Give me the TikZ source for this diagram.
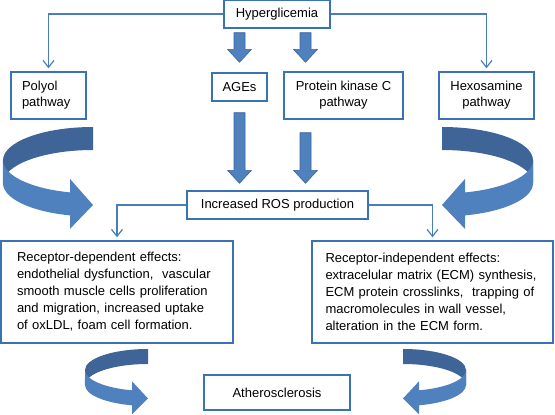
\documentclass[tikz,border=0pt]{standalone}
\usepackage{fontspec}
\setmainfont{Liberation Sans}
\usetikzlibrary{arrows.meta,calc}

\definecolor{boxblue}{HTML}{3A72B6}
\definecolor{linkblue}{HTML}{4A7EBB}
\definecolor{arrowfill}{HTML}{4F81BD}
\definecolor{arrowline}{HTML}{3B64A0}
\definecolor{curvefront}{HTML}{4F81BF}
\definecolor{curveback}{HTML}{3E6498}

% curved ribbon arrow: #1 placement, #2 width, #3 height, #4 band, #5 head width, #6 head length
\newcommand{\curvedarrow}[6]{%
  \begin{scope}[#1]
    \pgfmathsetmacro\crvR{#3/2-(#4+#5)/4}
    \pgfmathsetmacro\crvD{\crvR*sqrt(1-(#6/#2)^2)}
    \pgfmathsetmacro\crvA{180-acos(#6/#2)}
    \pgfmathsetmacro\crvH{(#5-#4)/2}
    \fill[curveback] (#2,#4) arc[start angle=-90, end angle=-180, x radius=#2, y radius=\crvR]
      -- (0,\crvR) arc[start angle=180, end angle=270, x radius=#2, y radius=\crvR] -- cycle;
    \fill[curvefront] (0,\crvR) arc[start angle=180, end angle=\crvA, x radius=#2, y radius=\crvR]
      -- (#2-#6,\crvR+\crvD-\crvH) -- (#2,#3-#5/2) -- (#2-#6,\crvR+\crvD+#4+\crvH)
      -- (#2-#6,\crvR+\crvD+#4) arc[start angle=\crvA, end angle=180, x radius=#2, y radius=\crvR] -- cycle;
  \end{scope}}

\tikzset{
  box/.style={draw=boxblue, line width=1.4pt, fill=white, inner sep=0pt,
    font=\fontsize{13}{16}\selectfont, align=center},
  effects/.style={minimum height=102pt, align=left, font=\fontsize{13}{17}\selectfont},
  link/.style={draw=linkblue, line width=1.2pt, -{Straight Barb[length=7pt,width=11pt]}, shorten >=3pt},
  blockarrow/.style={fill=arrowfill, draw=arrowline, line width=0.6pt,
    to path={let \p1=(\tikztostart), \p2=(\tikztotarget) in
      (\x1-5.5pt,\y1) -- (\x1+5.5pt,\y1) -- (\x1+5.5pt,\y2+13pt) -- (\x1+12pt,\y2+13pt)
      -- (\x1,\y2) -- (\x1-12pt,\y2+13pt) -- (\x1-5.5pt,\y2+13pt) -- cycle}},
}

\begin{document}
\begin{tikzpicture}[x=1pt, y=-1pt]
  \useasboundingbox (0,0) rectangle (555,415);

  % curved arrows
  \curvedarrow{shift={(3,127)}}{90}{103}{23}{50}{23}
  \curvedarrow{shift={(533,127)}, xscale=-1}{91}{103}{23}{50}{23}
  \curvedarrow{shift={(85,349)}}{63}{66}{15}{33}{16}
  \curvedarrow{shift={(466,349)}, xscale=-1}{63}{66}{15}{33}{16}

  % boxes
  \node[box, minimum width=106pt, minimum height=28pt] (hyper) at (277,14) {Hyperglicemia};
  \node[box, minimum width=75pt, minimum height=47pt, text width=53pt, align=left] (polyol) at (48.5,95.5) {Polyol\\pathway};
  \node[box, minimum width=55pt, minimum height=28pt] (ages) at (239.5,87) {AGEs};
  \node[box, minimum width=119pt, minimum height=47pt] (pkc) at (343.5,95.5) {Protein kinase C\\pathway};
  \node[box, minimum width=95pt, minimum height=47pt] (hexo) at (486.5,95.5) {Hexosamine\\pathway};
  \node[box, minimum width=181pt, minimum height=28pt] (ros) at (277.5,205) {Increased ROS production};
  \node[box, effects, minimum width=232pt, text width=200pt] (recdep) at (117,292)
    {Receptor-dependent effects:\\endothelial dysfunction,\ \ vascular\\smooth muscle cells proliferation\\and migration, increased uptake\\of oxLDL, foam cell formation.};
  \node[box, effects, minimum width=241pt, text width=214pt] (recind) at (432.5,292)
    {Receptor-independent effects:\\extracelular matrix (ECM) synthesis,\\ECM protein crosslinks,\ \ trapping of\\macromolecules in wall vessel,\\alteration in the ECM form.};
  \node[box, minimum width=146pt, minimum height=35pt] (athero) at (277,392.5) {Atherosclerosis};

  % thin connectors
  \draw[link] (hyper.west) -| (polyol.north);
  \draw[link] (hyper.east) -| (hexo.north);
  \draw[link] (ros.west) -| (recdep.north);
  \draw[link] (ros.east) -| (recind.north);

  % block arrows
  \coordinate (pcol) at (305.5,0);
  \path[blockarrow] ($(hyper.south -| ages.north)+(0,4)$) to ($(ages.north)+(0,-10)$);
  \path[blockarrow] ($(hyper.south -| pcol)+(0,4)$) to ($(pkc.north -| pcol)+(0,-9)$);
  \path[blockarrow] ($(ages.south)+(0,11)$) to ($(ros.north -| ages.south)+(0,-7)$);
  \path[blockarrow] ($(pkc.south -| pcol)+(0,13)$) to ($(ros.north -| pcol)+(0,-7)$);
\end{tikzpicture}
\end{document}
